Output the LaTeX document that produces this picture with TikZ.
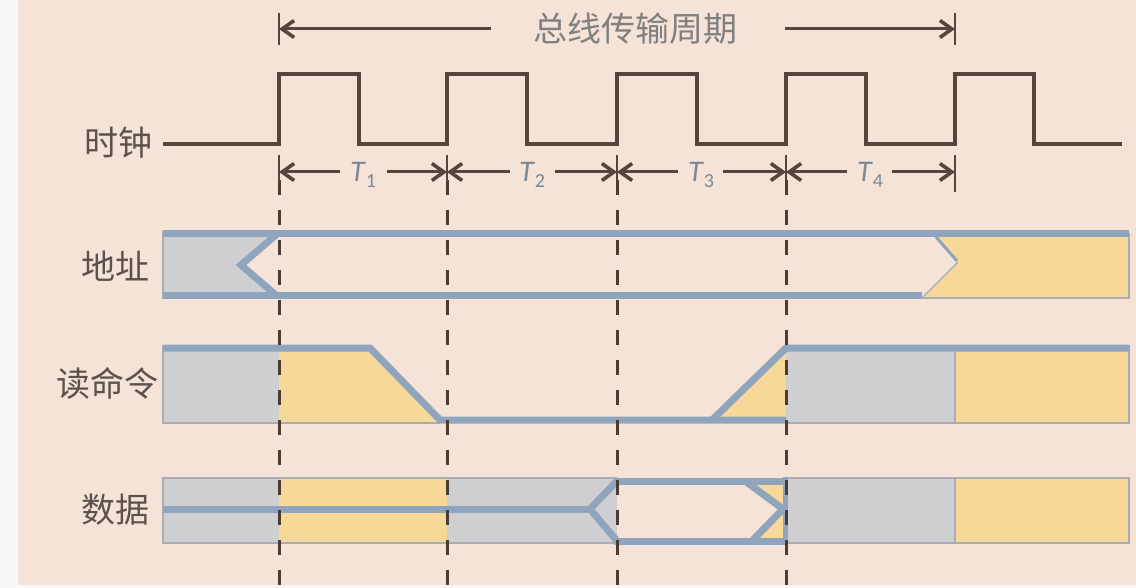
\documentclass[tikz,border=0pt]{standalone}
\usepackage{fontspec}
\setmainfont{Carlito}
\newfontfamily\cjk{Noto Sans CJK SC}
\usetikzlibrary{arrows.meta}
\definecolor{bg}{HTML}{F5E3D8}
\definecolor{strip}{HTML}{F8F8F8}
\definecolor{clk}{HTML}{55453D}
\definecolor{guidec}{HTML}{4A3B33}
\definecolor{sig}{HTML}{8EA5BD}
\definecolor{grayfill}{HTML}{CFCFD1}
\definecolor{yel}{HTML}{F7D898}
\definecolor{edge}{HTML}{A8ADB3}
\definecolor{titlec}{HTML}{808080}
\definecolor{tlab}{HTML}{7C8896}
\definecolor{labc}{HTML}{5C524D}
\tikzset{
  clockline/.style={draw=clk, line width=3.8pt, line join=miter},
  sigline/.style={draw=sig, line width=7pt, line join=miter},
  edgeline/.style={draw=edge, line width=1.2pt},
  guide/.style={draw=guidec, line width=3pt, dash pattern=on 15pt off 15pt},
  tickline/.style={draw=clk, line width=1.8pt},
  dim/.style={draw=clk, line width=3pt, -{Straight Barb[length=12pt,width=17pt,line width=3.6pt]}},
  lab/.style={text=labc, font=\cjk\fontsize{34}{34}\selectfont, inner sep=0pt},
  ttl/.style={text=titlec, font=\cjk\fontsize{34}{34}\selectfont, inner sep=0pt},
  tl/.style={text=tlab, font=\fontsize{30}{30}\selectfont, inner sep=0pt, anchor=base},
}
\newcommand{\tsub}[1]{\textit{T}\raisebox{-6pt}{\fontsize{20}{20}\selectfont #1}}
\begin{document}
\begin{tikzpicture}[x=1pt,y=-1pt]
\useasboundingbox (0,0) rectangle (1136,588);
\fill[strip] (0,0) rectangle (1136,588);
\fill[bg] (18,0) rectangle (1136,585);

% ---------- address row ----------
\fill[grayfill] (163,234) -- (276,234) -- (241,265) -- (277,296) -- (163,296) -- cycle;
\fill[yel] (936,236) -- (1129,236) -- (1129,298) -- (922,298) -- (958,262) -- cycle;
\draw[edgeline] (163,231) -- (163,299);
\draw[edgeline] (922,298) -- (1129,298) -- (1129,233);
\draw[edgeline] (958,262) -- (922,298);
\draw[sig, line width=3pt] (936,237) -- (957,261);
\draw[sigline] (163,234) -- (1129,234);
\draw[sigline] (163,296) -- (922,296);
\draw[sigline] (277,234) -- (241,265) -- (277,296);

% ---------- read command row ----------
\fill[grayfill] (163,348) rectangle (279,423);
\fill[yel] (279,350) -- (370,350) -- (440,423) -- (279,423) -- cycle;
\fill[yel] (712,420) -- (786,350) -- (786,420) -- cycle;
\fill[grayfill] (786,348) rectangle (955,423);
\fill[yel] (955,348) rectangle (1129,423);
\draw[edgeline] (163,345) -- (163,423) -- (440,423);
\draw[edgeline] (786,423) -- (1129,423) -- (1129,345);
\draw[edgeline] (955,348) -- (955,423);
\draw[sigline] (163,348) -- (370,348) -- (440,420) -- (786,420);
\draw[sigline] (712,420) -- (786,348) -- (1129,348);

% ---------- data row ----------
\fill[grayfill] (163,478) rectangle (279,543);
\fill[yel] (279,478) rectangle (447,543);
\fill[grayfill] (447,478) rectangle (617,543);
\fill[yel] (745,481) -- (785,481) -- (785,509) -- cycle;
\fill[yel] (752,542) -- (785,542) -- (785,511) -- cycle;
\fill[grayfill] (786,478) rectangle (955,543);
\fill[yel] (955,478) rectangle (1129,543);
\draw[edgeline] (617,478) -- (163,478) -- (163,543) -- (617,543);
\draw[edgeline] (786,478) -- (1129,478) -- (1129,543) -- (786,543);
\draw[edgeline] (955,478) -- (955,543);
\draw[sigline] (163,509) -- (590,509);
\draw[sigline] (617,481) -- (590,509) -- (617,541);
\draw[sigline] (614,481) -- (785,481);
\draw[sigline] (614,541) -- (785,541);
\draw[sigline] (745,481) -- (783,509) -- (752,541);
\draw[sig, line width=5pt] (785,477) -- (785,544);

% ---------- guide lines ----------
\foreach \x in {279,447,617,786}
  \draw[guide] (\x,180) -- (\x,588);

% ---------- clock ----------
\draw[clockline] (163,144) -- (279,144) -- (279,74) -- (359,74) -- (359,144)
  -- (447,144) -- (447,74) -- (527,74) -- (527,144)
  -- (617,144) -- (617,74) -- (697,74) -- (697,144)
  -- (786,144) -- (786,74) -- (866,74) -- (866,144)
  -- (955,144) -- (955,74) -- (1034,74) -- (1034,144) -- (1122,144);

% ---------- bus period arrow ----------
\coordinate (pl) at (279,29);
\coordinate (pr) at (955,29);
\draw[tickline] (279,13) -- (279,45);
\draw[tickline] (955,13) -- (955,45);
\node[ttl] (title) at (635,29) {总线传输周期};
\coordinate (pla) at (491,29);
\coordinate (pra) at (785,29);
\draw[dim] (pla) -- (pl);
\draw[dim] (pra) -- (pr);

% ---------- T arrows ----------
\foreach \x in {279,447,617,786}
  \draw[tickline] (\x,155) -- (\x,182);
\draw[tickline] (955,155) -- (955,192);
\coordinate (k0) at (279,172);
\coordinate (k1) at (447,172);
\coordinate (k2) at (617,172);
\coordinate (k3) at (786,172);
\coordinate (k4) at (955,172);
\node[tl] (t1) at (363,182) {\tsub{1}};
\node[tl] (t2) at (532,182) {\tsub{2}};
\node[tl] (t3) at (701,182) {\tsub{3}};
\node[tl] (t4) at (870,182) {\tsub{4}};
\coordinate (a1) at (340,172); \coordinate (b1) at (387,172);
\coordinate (a2) at (510,172); \coordinate (b2) at (555,172);
\coordinate (a3) at (678,172); \coordinate (b3) at (723,172);
\coordinate (a4) at (847,172); \coordinate (b4) at (892,172);
\draw[dim] (a1) -- (k0); \draw[dim] (b1) -- (k1);
\draw[dim] (a2) -- (k1); \draw[dim] (b2) -- (k2);
\draw[dim] (a3) -- (k2); \draw[dim] (b3) -- (k3);
\draw[dim] (a4) -- (k3); \draw[dim] (b4) -- (k4);

% ---------- labels ----------
\node[lab, anchor=east] (clkl) at (153,143) {时钟};
\node[lab, anchor=east] (addr) at (150,266) {地址};
\node[lab, anchor=east] (rd) at (159,383) {读命令};
\node[lab, anchor=east] (data) at (150,510) {数据};
\end{tikzpicture}
\end{document}
